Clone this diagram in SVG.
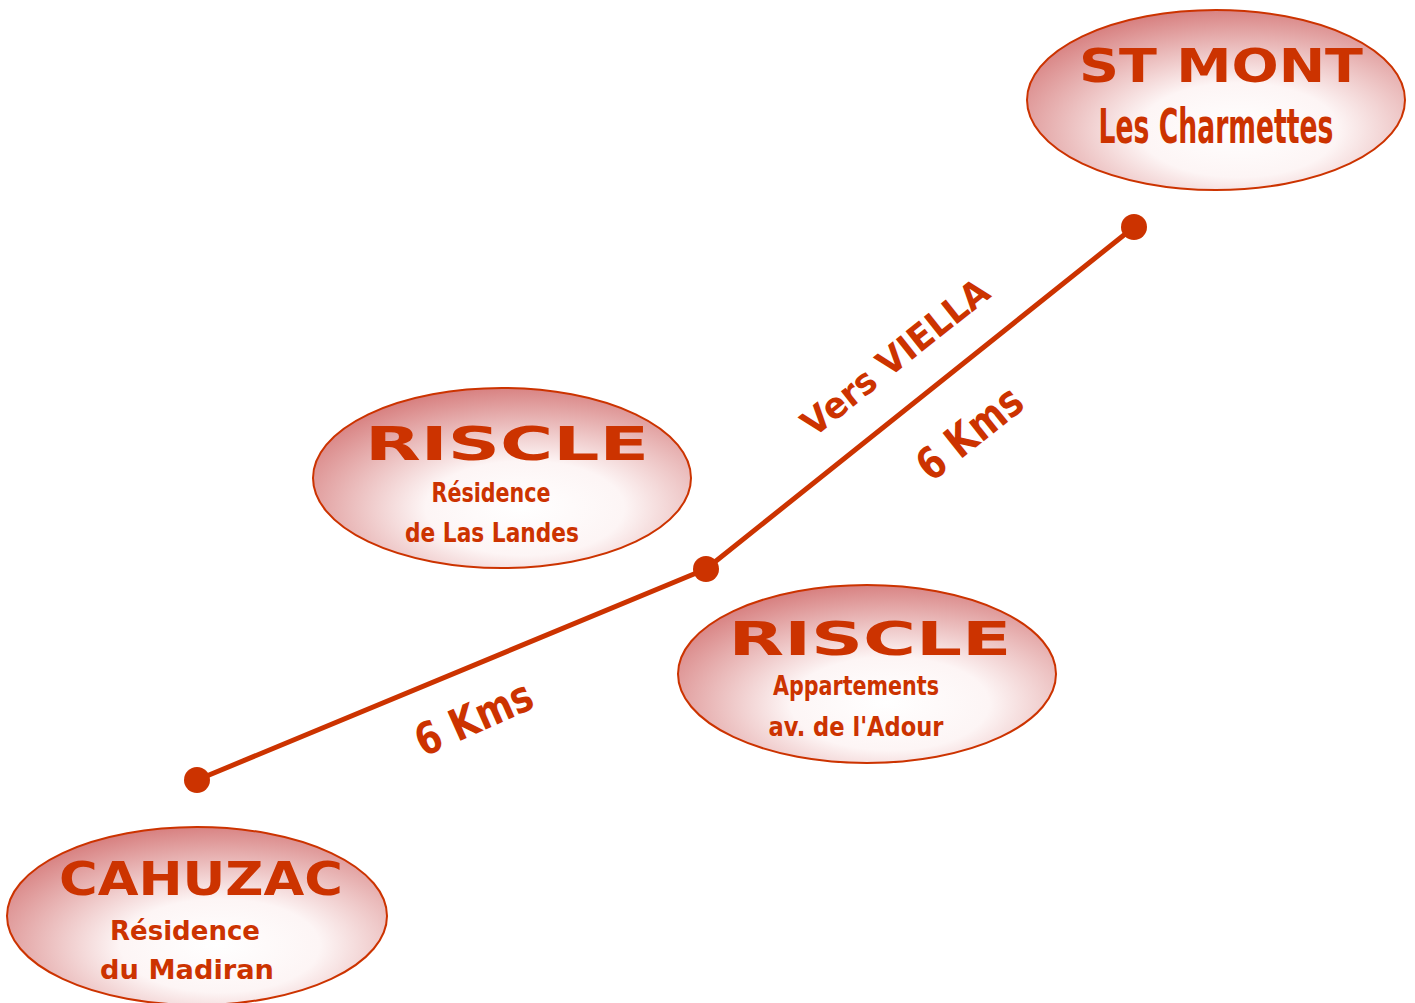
<svg xmlns="http://www.w3.org/2000/svg" width="1415" height="1003" viewBox="0 0 1415 1003">
<defs>
<radialGradient id="g" cx="0.58" cy="0.68" r="0.75" fx="0.55" fy="0.66">
<stop offset="0" stop-color="#ffffff"/>
<stop offset="0.35" stop-color="#fdf5f5"/>
<stop offset="1" stop-color="#d27070"/>
</radialGradient>
<style>
.ell{fill:url(#g);stroke:#cc3300;stroke-width:2}
.t{fill:#cc3300;font-family:"DejaVu Sans",sans-serif;font-weight:bold;text-anchor:middle}
.big{font-size:46px}
.sm{font-size:26px}
.road{fill:none;stroke:#cc3300;stroke-width:5;stroke-linejoin:round}
.dot{fill:#cc3300}
</style>
</defs>
<g id="connectors">
<polyline class="road" points="197,780 706,569 1134,227"/>
<circle class="dot" cx="197" cy="780" r="13"/>
<circle class="dot" cx="706" cy="569" r="13"/>
<circle class="dot" cx="1134" cy="227" r="13"/>
<text class="t" style="font-size:36px" transform="translate(903,367) rotate(-38.5)" textLength="228" lengthAdjust="spacingAndGlyphs">Vers VIELLA</text>
<text class="t" style="font-size:44px" transform="translate(979,445) rotate(-38.5)" textLength="122" lengthAdjust="spacingAndGlyphs">6 Kms</text>
<text class="t" style="font-size:44px" transform="translate(480,732) rotate(-24)" textLength="124" lengthAdjust="spacingAndGlyphs">6 Kms</text>
</g>
<g id="stmont">
<ellipse class="ell" cx="1216" cy="100" rx="189" ry="90"/>
<text class="t big" x="1221" y="82" textLength="284" lengthAdjust="spacingAndGlyphs">ST MONT</text>
<text class="t" style="font-size:48px" transform="translate(1216,143) scale(0.555,1)">Les Charmettes</text>
</g>
<g id="riscle1">
<ellipse class="ell" cx="502" cy="478" rx="189" ry="90"/>
<text class="t big" x="507" y="460" textLength="284" lengthAdjust="spacingAndGlyphs">RISCLE</text>
<text class="t sm" x="491" y="502" textLength="119" lengthAdjust="spacingAndGlyphs">Résidence</text>
<text class="t sm" x="492" y="542" textLength="174" lengthAdjust="spacingAndGlyphs">de Las Landes</text>
</g>
<g id="riscle2">
<ellipse class="ell" cx="867" cy="674" rx="189" ry="89"/>
<text class="t big" x="870" y="655" textLength="283" lengthAdjust="spacingAndGlyphs">RISCLE</text>
<text class="t sm" x="856" y="695" textLength="166" lengthAdjust="spacingAndGlyphs">Appartements</text>
<text class="t sm" x="856" y="736" textLength="175" lengthAdjust="spacingAndGlyphs">av. de l'Adour</text>
</g>
<g id="cahuzac">
<ellipse class="ell" cx="197" cy="916" rx="190" ry="89"/>
<text class="t big" x="201" y="895" textLength="284" lengthAdjust="spacingAndGlyphs">CAHUZAC</text>
<text class="t sm" x="185" y="940" textLength="150" lengthAdjust="spacingAndGlyphs">Résidence</text>
<text class="t sm" x="187" y="979" textLength="174" lengthAdjust="spacingAndGlyphs">du Madiran</text>
</g>
</svg>
